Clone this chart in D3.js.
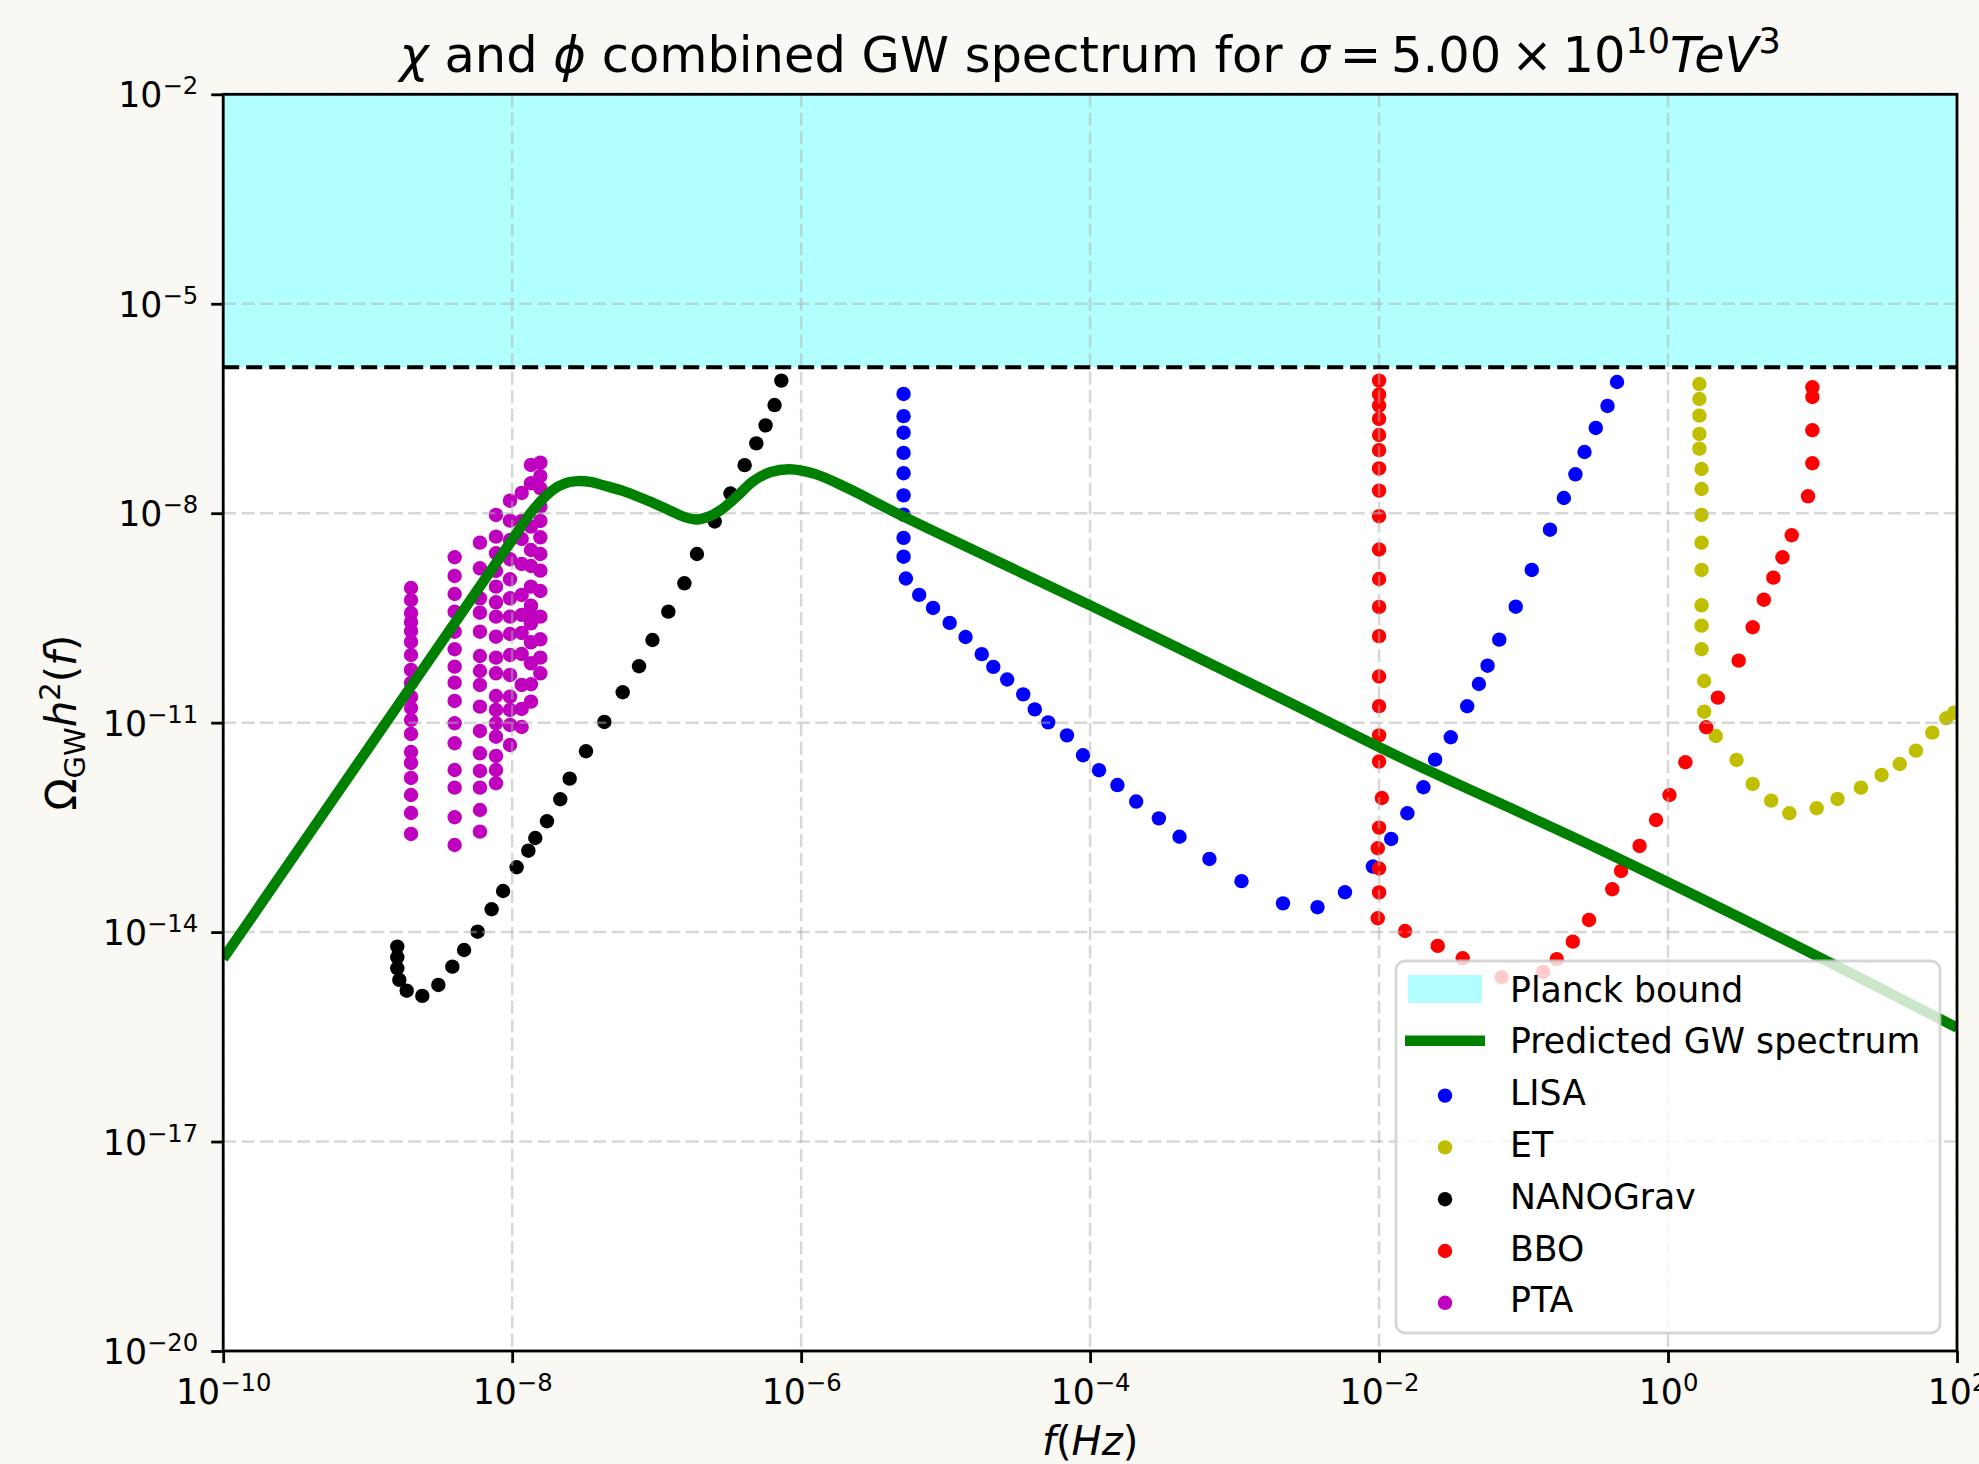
<!DOCTYPE html>
<html>
<head>
<meta charset="utf-8">
<script src="https://cdn.jsdelivr.net/npm/d3@7"></script>
<style>
  html, body { margin: 0; padding: 0; background: #f9f8f3; }
  svg { display: block; font-family: "DejaVu Sans", sans-serif; }
</style>
</head>
<body>
<svg id="chart" width="1979" height="1464"></svg>
<script>
// All series are stored as [log10 f, log10 Omega h^2] pairs

// Planck bound on Omega h^2
const planckBound = 1.23e-6;

const xTicks = [1e-10, 1e-8, 1e-6, 1e-4, 1e-2, 1e0, 1e2];
const xTickExp = ["\u221210", "\u22128", "\u22126", "\u22124", "\u22122", "0", "2"];
const yTicks = [1e-20, 1e-17, 1e-14, 1e-11, 1e-8, 1e-5, 1e-2];
const yTickExp = ["\u221220", "\u221217", "\u221214", "\u221211", "\u22128", "\u22125", "\u22122"];

// Predicted (combined chi + phi) spectrum
const predicted = [
  [-10, -14.38], [-9.5, -12.88], [-9.0, -11.38], [-8.5, -9.88], [-8.0, -8.38],
  [-7.85, -7.94], [-7.72, -7.67], [-7.63, -7.57], [-7.55, -7.54], [-7.45, -7.555],
  [-7.37, -7.60], [-7.22, -7.69], [-7.05, -7.83], [-6.91, -7.96], [-6.80, -8.06],
  [-6.72, -8.09], [-6.64, -8.05], [-6.56, -7.96], [-6.45, -7.77], [-6.33, -7.54],
  [-6.21, -7.41], [-6.08, -7.37], [-5.90, -7.44], [-5.68, -7.64], [-5.29, -8.05],
  [-4.01, -9.31], [-2.68, -10.65], [-1.86, -11.49], [-0.48, -12.81], [0.99, -14.30],
  [2.0, -15.37]
];

const lisa = [
  [-5.291, -6.292], [-5.291, -6.610], [-5.291, -6.847], [-5.291, -7.136], [-5.291, -7.427],
  [-5.291, -7.745], [-5.291, -8.020], [-5.291, -8.353], [-5.291, -8.623], [-5.275, -8.935],
  [-5.183, -9.170], [-5.087, -9.357], [-4.972, -9.571], [-4.862, -9.773], [-4.750, -10.019],
  [-4.670, -10.201], [-4.574, -10.382], [-4.463, -10.595], [-4.383, -10.810], [-4.290, -10.996],
  [-4.160, -11.182], [-4.049, -11.467], [-3.938, -11.681], [-3.811, -11.894], [-3.681, -12.130],
  [-3.524, -12.371], [-3.381, -12.634], [-3.174, -12.952], [-2.952, -13.270], [-2.665, -13.588],
  [-2.426, -13.643], [-2.236, -13.429], [-2.043, -13.061], [-1.916, -12.666], [-1.804, -12.298],
  [-1.693, -11.925], [-1.612, -11.530], [-1.504, -11.209], [-1.390, -10.765], [-1.309, -10.446],
  [-1.249, -10.184], [-1.168, -9.811], [-1.054, -9.339], [-0.943, -8.813], [-0.817, -8.236],
  [-0.721, -7.782], [-0.641, -7.443], [-0.578, -7.123], [-0.500, -6.779], [-0.419, -6.464],
  [-0.353, -6.121]
];

const et = [
  [0.217, -6.149], [0.217, -6.364], [0.217, -6.603], [0.217, -6.865], [0.217, -7.076],
  [0.232, -7.367], [0.232, -7.653], [0.232, -8.025], [0.232, -8.422], [0.232, -8.813],
  [0.232, -9.319], [0.232, -9.611], [0.232, -9.949], [0.250, -10.403], [0.250, -10.843],
  [0.331, -11.191], [0.474, -11.534], [0.586, -11.878], [0.714, -12.117], [0.840, -12.298],
  [1.029, -12.226], [1.173, -12.093], [1.335, -11.931], [1.478, -11.749], [1.604, -11.592],
  [1.716, -11.401], [1.829, -11.143], [1.926, -10.937], [1.980, -10.857]
];

const nanograv = [
  [-8.795, -14.208], [-8.795, -14.360], [-8.795, -14.518], [-8.781, -14.685], [-8.730, -14.839],
  [-8.622, -14.914], [-8.511, -14.757], [-8.414, -14.495], [-8.333, -14.256], [-8.239, -13.994],
  [-8.142, -13.673], [-8.063, -13.411], [-7.969, -13.071], [-7.888, -12.834], [-7.840, -12.652],
  [-7.759, -12.412], [-7.667, -12.097], [-7.602, -11.802], [-7.489, -11.410], [-7.362, -10.990],
  [-7.235, -10.565], [-7.122, -10.192], [-7.029, -9.816], [-6.919, -9.410], [-6.808, -9.004],
  [-6.721, -8.584], [-6.598, -8.119], [-6.489, -7.718], [-6.391, -7.312], [-6.310, -7.000],
  [-6.246, -6.742], [-6.184, -6.451], [-6.137, -6.101]
];

const bbo = [
  [-2.0, -6.101], [-2.0, -6.300], [-2.0, -6.459], [-2.0, -6.650], [-2.0, -6.880],
  [-2.0, -7.097], [-2.0, -7.359], [-2.0, -7.676], [-2.0, -8.043], [-2.0, -8.520],
  [-2.0, -8.942], [-2.0, -9.343], [-2.0, -9.761], [-2.0, -10.339], [-2.0, -10.764],
  [-2.0, -11.182], [-2.0, -11.557], [-1.981, -12.079], [-2.0, -12.503], [-2.009, -12.799],
  [-2.0, -13.089], [-2.0, -13.432], [-2.009, -13.802], [-1.820, -13.984], [-1.594, -14.198],
  [-1.421, -14.375], [-1.151, -14.647], [-0.865, -14.571], [-0.770, -14.387], [-0.659, -14.137],
  [-0.547, -13.826], [-0.386, -13.386], [-0.325, -13.124], [-0.197, -12.766], [-0.083, -12.394],
  [0.010, -12.036], [0.120, -11.567], [0.264, -11.066], [0.345, -10.642], [0.489, -10.112],
  [0.586, -9.634], [0.663, -9.239], [0.729, -8.923], [0.792, -8.631], [0.856, -8.316],
  [0.969, -7.758], [0.999, -7.285], [0.999, -6.812], [0.999, -6.335], [0.999, -6.197]
];

const pta = [
  // column 1
  [-8.700, -9.071], [-8.700, -9.243], [-8.700, -9.429], [-8.700, -9.558], [-8.700, -9.687],
  [-8.700, -9.844], [-8.700, -10.031], [-8.700, -10.245], [-8.700, -10.431], [-8.700, -10.632],
  [-8.700, -10.790], [-8.700, -10.962], [-8.700, -11.162], [-8.700, -11.420], [-8.700, -11.577],
  [-8.700, -11.792], [-8.700, -12.036], [-8.700, -12.294], [-8.700, -12.594],
  // column 2
  [-8.398, -8.631], [-8.398, -8.899], [-8.398, -9.157], [-8.398, -9.410], [-8.398, -9.697],
  [-8.398, -9.949], [-8.398, -10.198], [-8.398, -10.427], [-8.398, -10.689], [-8.398, -11.009],
  [-8.398, -11.295], [-8.398, -11.678], [-8.398, -11.931], [-8.398, -12.355], [-8.398, -12.752],
  // column 3
  [-8.223, -8.422], [-8.223, -8.789], [-8.223, -9.219], [-8.223, -9.425], [-8.223, -9.697],
  [-8.223, -10.045], [-8.223, -10.260], [-8.223, -10.460], [-8.223, -10.771], [-8.223, -11.119],
  [-8.223, -11.439], [-8.223, -11.692], [-8.223, -11.931], [-8.223, -12.251], [-8.223, -12.561],
  // column 4
  [-8.112, -8.025], [-8.112, -8.336], [-8.112, -8.574], [-8.112, -8.828], [-8.112, -9.052],
  [-8.112, -9.276], [-8.112, -9.482], [-8.112, -9.769], [-8.112, -10.069], [-8.112, -10.293],
  [-8.112, -10.618], [-8.112, -10.818], [-8.112, -11.009], [-8.112, -11.201], [-8.112, -11.477],
  [-8.112, -11.678], [-8.112, -11.868],
  // column 5
  [-8.015, -7.821], [-8.015, -8.107], [-8.015, -8.384], [-8.015, -8.660], [-8.015, -8.946],
  [-8.015, -9.219], [-8.015, -9.482], [-8.015, -9.730], [-8.015, -10.031], [-8.015, -10.317],
  [-8.015, -10.628], [-8.015, -10.818], [-8.015, -11.033], [-8.015, -11.320],
  // column 6
  [-7.934, -7.710], [-7.934, -8.111], [-7.934, -8.369], [-7.934, -8.727], [-7.934, -9.171],
  [-7.934, -9.457], [-7.934, -9.715], [-7.934, -10.016], [-7.934, -10.460], [-7.934, -10.804],
  [-7.934, -11.062],
  // column 7
  [-7.870, -7.309], [-7.870, -7.571], [-7.870, -8.193], [-7.870, -8.527], [-7.870, -8.756],
  [-7.870, -9.052], [-7.870, -9.325], [-7.870, -9.457], [-7.870, -9.577], [-7.870, -9.849],
  [-7.870, -10.150], [-7.870, -10.450], [-7.870, -10.699],
  // column 8
  [-7.805, -7.276], [-7.805, -7.467], [-7.805, -7.643], [-7.805, -7.907], [-7.805, -8.111],
  [-7.805, -8.345], [-7.805, -8.584], [-7.805, -8.823], [-7.805, -9.114], [-7.805, -9.482],
  [-7.805, -9.806], [-7.805, -10.069], [-7.805, -10.293]
];

const detectors = [
  { name: "LISA", data: lisa, color: "#0000ff" },
  { name: "ET", data: et, color: "#bfbf00" },
  { name: "NANOGrav", data: nanograv, color: "#000000" },
  { name: "BBO", data: bbo, color: "#ff0000" },
  { name: "PTA", data: pta, color: "#bf00bf" }
];

// ---- layout ----
const W = 1979, H = 1464;
const box = { left: 223.2, right: 1957, top: 94.3, bottom: 1351 };
const tickFont = 34.7;

const svg = d3.select("#chart");

const x = d3.scaleLog().domain([1e-10, 1e2]).range([box.left, box.right]);
const y = d3.scaleLog().domain([1e-20, 1e-2]).range([box.bottom, box.top]);

svg.append("rect").attr("width", W).attr("height", H).attr("fill", "#f9f8f3");
svg.append("rect")
    .attr("x", box.left).attr("y", box.top)
    .attr("width", box.right - box.left).attr("height", box.bottom - box.top)
    .attr("fill", "#ffffff");

svg.append("defs").append("clipPath").attr("id", "clip")
  .append("rect")
    .attr("x", box.left).attr("y", box.top)
    .attr("width", box.right - box.left).attr("height", box.bottom - box.top);

const plot = svg.append("g").attr("clip-path", "url(#clip)");

// Planck bound region
plot.append("rect")
    .attr("x", x(1e-10))
    .attr("y", y(1e-2))
    .attr("width", x(1e2) - x(1e-10))
    .attr("height", y(planckBound) - y(1e-2))
    .attr("fill", "cyan")
    .attr("fill-opacity", 0.3);

// detector sensitivity points
detectors.forEach(det => {
    plot.append("g")
      .selectAll("circle")
      .data(det.data)
      .join("circle")
        .attr("cx", d => x(10 ** d[0]))
        .attr("cy", d => y(10 ** d[1]))
        .attr("r", 7.2)
        .attr("fill", det.color);
});

// grid
const grid = plot.append("g")
    .attr("stroke", "#b0b0b0")
    .attr("stroke-opacity", 0.5)
    .attr("stroke-width", 2.5)
    .attr("stroke-dasharray", "13 5.5");

grid.selectAll(".gx")
  .data(xTicks)
  .join("line")
    .attr("x1", d => x(d)).attr("x2", d => x(d))
    .attr("y1", box.top).attr("y2", box.bottom);

grid.selectAll(".gy")
  .data(yTicks)
  .join("line")
    .attr("x1", box.left).attr("x2", box.right)
    .attr("y1", d => y(d)).attr("y2", d => y(d));

// predicted spectrum
const line = d3.line()
    .x(d => x(10 ** d[0]))
    .y(d => y(10 ** d[1]))
    .curve(d3.curveCatmullRom.alpha(0.5));

plot.append("path")
    .datum(predicted)
    .attr("d", line)
    .attr("fill", "none")
    .attr("stroke", "#008000")
    .attr("stroke-width", 10.4)
    .attr("stroke-linejoin", "round");

// Planck bound dashed line
plot.append("line")
    .attr("x1", box.left).attr("x2", box.right)
    .attr("y1", y(planckBound)).attr("y2", y(planckBound))
    .attr("stroke", "#000")
    .attr("stroke-width", 4)
    .attr("stroke-dasharray", "16 7");

// axes
const xAxis = svg.append("g")
    .attr("transform", `translate(0,${box.bottom})`)
    .call(d3.axisBottom(x).tickValues(xTicks).tickSize(12).tickSizeOuter(0).tickFormat(() => ""));
const yAxis = svg.append("g")
    .attr("transform", `translate(${box.left},0)`)
    .call(d3.axisLeft(y).tickValues(yTicks).tickSize(12).tickSizeOuter(0).tickFormat(() => ""));

[xAxis, yAxis].forEach(a => {
    a.select(".domain").remove();
    a.selectAll(".tick line").attr("stroke", "#000").attr("stroke-width", 2.8);
    a.selectAll(".tick text").remove();
});

xAxis.selectAll(".tick").each(function(d, i) {
    const t = d3.select(this).append("text")
        .attr("y", 53)
        .attr("text-anchor", "middle")
        .attr("fill", "#000")
        .style("font-size", tickFont + "px")
        .style("font-family", "DejaVu Sans");
    t.append("tspan").text("10");
    t.append("tspan").attr("dy", -13).style("font-size", (tickFont * 0.7) + "px").text(xTickExp[i]);
});

yAxis.selectAll(".tick").each(function(d, i) {
    const t = d3.select(this).append("text")
        .attr("x", -25)
        .attr("y", 12.5)
        .attr("text-anchor", "end")
        .attr("fill", "#000")
        .style("font-size", tickFont + "px")
        .style("font-family", "DejaVu Sans");
    t.append("tspan").text("10");
    t.append("tspan").attr("dy", -13).style("font-size", (tickFont * 0.7) + "px").text(yTickExp[i]);
});

// frame
svg.append("rect")
    .attr("x", box.left).attr("y", box.top)
    .attr("width", box.right - box.left).attr("height", box.bottom - box.top)
    .attr("fill", "none")
    .attr("stroke", "#000")
    .attr("stroke-width", 2.8);

// title
const title = svg.append("text")
    .attr("x", (box.left + box.right) / 2)
    .attr("y", 72)
    .attr("text-anchor", "middle")
    .style("font-size", "49.5px");
title.append("tspan").style("font-style", "italic").text("\u03c7");
title.append("tspan").text(" and ");
title.append("tspan").style("font-style", "italic").text("\u03d5");
title.append("tspan").text(" combined GW spectrum for ");
title.append("tspan").style("font-style", "italic").text("\u03c3");
title.append("tspan").text("\u2009=\u20095.00\u2009\u00d7\u200910");
title.append("tspan").attr("dy", -19).style("font-size", "35px").text("10");
title.append("tspan").attr("dy", 19).style("font-style", "italic").text("TeV");
title.append("tspan").attr("dy", -19).style("font-size", "35px").text("3");

// axis labels
const xl = svg.append("text")
    .attr("x", (box.left + box.right) / 2)
    .attr("y", 1455)
    .attr("text-anchor", "middle")
    .style("font-size", "40px");
xl.append("tspan").style("font-style", "italic").text("f");
xl.append("tspan").text("(");
xl.append("tspan").style("font-style", "italic").text("Hz");
xl.append("tspan").text(")");

const yl = svg.append("text")
    .attr("transform", `translate(76,${(box.top + box.bottom) / 2}) rotate(-90)`)
    .attr("text-anchor", "middle")
    .style("font-size", "42px");
yl.append("tspan").text("\u03a9");
yl.append("tspan").attr("dy", 9).style("font-size", "29px").text("GW");
yl.append("tspan").attr("dy", -9).style("font-style", "italic").text("h");
yl.append("tspan").attr("dy", -16).style("font-size", "29px").text("2");
yl.append("tspan").attr("dy", 16).text("(");
yl.append("tspan").style("font-style", "italic").text("f");
yl.append("tspan").text(")");

// legend
const legend = svg.append("g");
legend.append("rect")
    .attr("x", 1396).attr("y", 961)
    .attr("width", 544).attr("height", 372)
    .attr("rx", 9)
    .attr("fill", "#ffffff").attr("fill-opacity", 0.8)
    .attr("stroke", "#cccccc").attr("stroke-opacity", 0.8)
    .attr("stroke-width", 2.8);

const rowY = i => 989 + i * 51.8;
const legendItems = [
    { label: "Planck bound", kind: "patch" },
    { label: "Predicted GW spectrum", kind: "line" },
    ...detectors.map(d => ({ label: d.name, kind: "dot", color: d.color }))
];

legendItems.forEach((it, i) => {
    const cy = rowY(i);
    if (it.kind === "patch") {
        legend.append("rect")
            .attr("x", 1408).attr("y", cy - 14)
            .attr("width", 74).attr("height", 28)
            .attr("fill", "cyan").attr("fill-opacity", 0.3);
    } else if (it.kind === "line") {
        legend.append("line")
            .attr("x1", 1405).attr("x2", 1485)
            .attr("y1", cy).attr("y2", cy)
            .attr("stroke", "#008000").attr("stroke-width", 10.4);
    } else {
        legend.append("circle")
            .attr("cx", 1445).attr("cy", cy + 3)
            .attr("r", 7.2)
            .attr("fill", it.color);
    }
    legend.append("text")
        .attr("x", 1510).attr("y", cy + 12.6)
        .style("font-size", tickFont + "px")
        .text(it.label);
});
</script>
</body>
</html>
